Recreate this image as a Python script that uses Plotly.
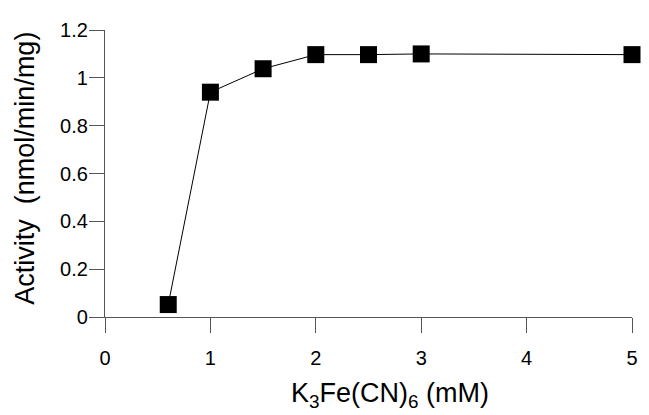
import plotly.graph_objects as go

conc_mM = [0.6, 1.0, 1.5, 2.0, 2.5, 3.0, 5.0]
activity = [0.052, 0.94, 1.038, 1.097, 1.097, 1.100, 1.097]

x_ticks = [0, 1, 2, 3, 4, 5]
y_ticks = [0, 0.2, 0.4, 0.6, 0.8, 1, 1.2]
y_ticklabels = ["0", "0.2", "0.4", "0.6", "0.8", "1", "1.2"]

x_title = "K<sub>3</sub>Fe(CN)<sub>6</sub> (mM)"
y_title = "Activity\u00a0 (nmol/min/mg)"

fig = go.Figure()
fig.add_trace(go.Scatter(
    x=conc_mM, y=activity, mode="lines+markers",
    line=dict(color="black", width=1),
    marker=dict(symbol="square", size=17, color="black"),
    cliponaxis=False, showlegend=False,
))

font = "Liberation Sans, Arial, sans-serif"
axis_col = "#555"
fig.update_layout(
    width=641, height=407,
    margin=dict(l=97, r=11, t=20, b=98),
    paper_bgcolor="white", plot_bgcolor="white",
    font=dict(family=font, color="black", size=20),
    xaxis=dict(
        range=[0, 5], tickvals=x_ticks, ticks="outside", ticklen=15,
        tickcolor=axis_col, tickwidth=1.3, showline=True, linecolor=axis_col,
        linewidth=1.3, showgrid=False, zeroline=False,
        tickfont=dict(size=20), ticklabelstandoff=8,
    ),
    yaxis=dict(
        range=[0, 1.2], tickvals=y_ticks, ticktext=y_ticklabels, ticks="outside",
        ticklen=15, tickcolor=axis_col, tickwidth=1.3, showline=True,
        linecolor=axis_col, linewidth=1.3, showgrid=False, zeroline=False,
        tickfont=dict(size=20), ticklabelstandoff=-3,
    ),
    annotations=[
        dict(text=x_title, xref="paper", yref="paper", x=0.540, y=-0.273,
             xanchor="center", yanchor="middle", showarrow=False,
             font=dict(size=27)),
        dict(text=y_title, xref="paper", yref="paper", x=-0.152, y=0.52,
             xanchor="center", yanchor="middle", showarrow=False,
             textangle=-90, font=dict(size=27)),
    ],
)
fig.write_html("out.html")
